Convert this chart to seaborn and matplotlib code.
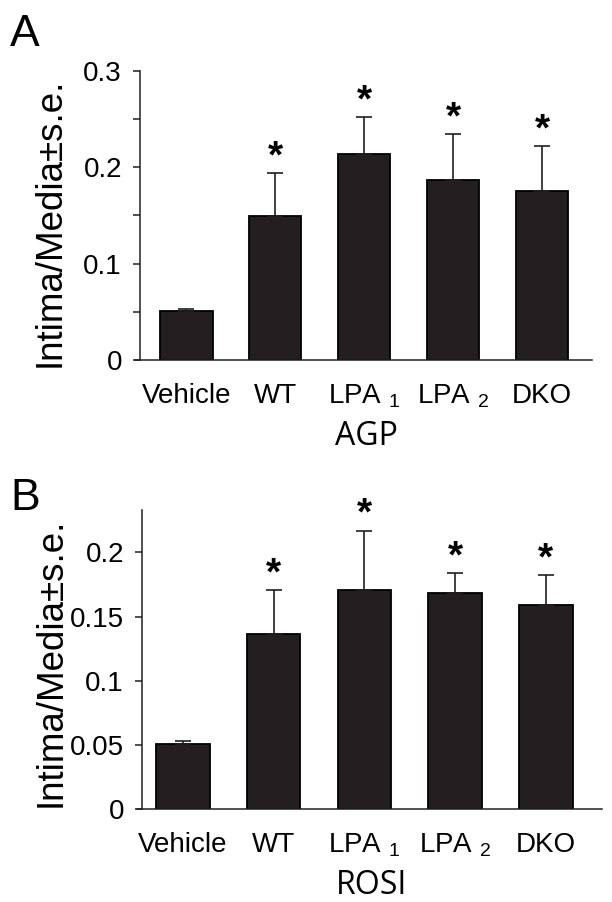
import numpy as np
import pandas as pd
import matplotlib
matplotlib.use("Agg")
import matplotlib.pyplot as plt
import seaborn as sns

# Intima/media ratios
groups = ["Vehicle", "WT", "LPA $_{1}$", "LPA $_{2}$", "DKO"]

agp_mean = [0.051, 0.149, 0.214, 0.187, 0.175]
agp_se = [0.002, 0.045, 0.038, 0.047, 0.047]
agp_sig = [False, True, True, True, True]
agp_ticks = [0, 0.05, 0.1, 0.15, 0.2, 0.25, 0.3]
agp_ticklabels = ["0", "", "0.1", "", "0.2", "", "0.3"]

rosi_mean = [0.051, 0.136, 0.171, 0.168, 0.159]
rosi_se = [0.002, 0.035, 0.046, 0.016, 0.023]
rosi_sig = [False, True, True, True, True]
rosi_ticks = [0, 0.05, 0.1, 0.15, 0.2]
rosi_ticklabels = ["0", "0.05", "0.1", "0.15", "0.2"]

sns.set_style("ticks")
plt.rcParams["font.family"] = ["Liberation Sans", "DejaVu Sans"]
plt.rcParams["mathtext.fontset"] = "custom"
plt.rcParams["mathtext.rm"] = "Liberation Sans"
plt.rcParams["mathtext.it"] = "Liberation Sans"
plt.rcParams["text.color"] = "black"
plt.rcParams["axes.labelcolor"] = "black"
plt.rcParams["xtick.color"] = "black"
plt.rcParams["ytick.color"] = "black"

ink = "#231f20"
fig = plt.figure(figsize=(6.12, 9.02), dpi=100)
W, H = 612, 902


def panel(box, means, ses, sig, xlim, ylim, ticks, ticklabels, treat, letter, lab_y):
    l, t, r, b = box
    ax = fig.add_axes([l / W, 1 - b / H, (r - l) / W, (b - t) / H])
    df = pd.DataFrame({"group": groups, "ratio": means})
    sns.barplot(data=df, x="group", y="ratio", ax=ax, color=ink, saturation=1,
                edgecolor="black", linewidth=1.3, width=0.59, errorbar=None)
    x = np.arange(len(groups))
    ax.errorbar(x, means, yerr=[np.zeros(len(ses)), ses], fmt="none",
                ecolor=ink, elinewidth=1.2, capsize=6, capthick=1.2)
    for xi, m, s, flag in zip(x, means, ses, sig):
        if flag:
            ax.annotate("*", (xi, m + s), xytext=(0, 4), textcoords="offset points",
                        ha="center", va="baseline", fontsize=28, fontweight="bold",
                        color="black")
    ax.set_xlim(*xlim)
    ax.set_ylim(*ylim)
    ax.set_yticks(ticks)
    ax.set_yticklabels(ticklabels)
    sns.despine(ax=ax)
    for side in ["left", "bottom"]:
        ax.spines[side].set_color(ink)
        ax.spines[side].set_linewidth(1.1)
    ax.spines["bottom"].set_bounds(xlim[0] - 0.06, xlim[1])
    ax.tick_params(axis="y", left=True, direction="out", length=5,
                   width=1.1, color=ink, labelsize=20, pad=8)
    ax.tick_params(axis="x", bottom=False, labelsize=20, pad=13)
    ax.set_xlabel(treat, fontsize=23, labelpad=7, family="Open Sans")
    ax.set_ylabel("Intima/Media±s.e.", fontsize=26.5)
    ax.yaxis.set_label_coords(-0.16, lab_y)
    fig.text(10 / W, 1 - (t - 25) / H if letter == "A" else 1 - (t) / H, letter,
             fontsize=32, ha="left", va="baseline")
    return ax


axA = panel((140, 70.7, 592, 360), agp_mean, agp_se, agp_sig,
            (-0.52, 4.56), (0, 0.3), agp_ticks, agp_ticklabels, "AGP", "A", 0.477)
axB = panel((142, 510, 602, 809), rosi_mean, rosi_se, rosi_sig,
            (-0.45, 4.62), (0, 0.233), rosi_ticks, rosi_ticklabels, "ROSI", "B", 0.49)

fig.savefig("out.png", dpi=100)
